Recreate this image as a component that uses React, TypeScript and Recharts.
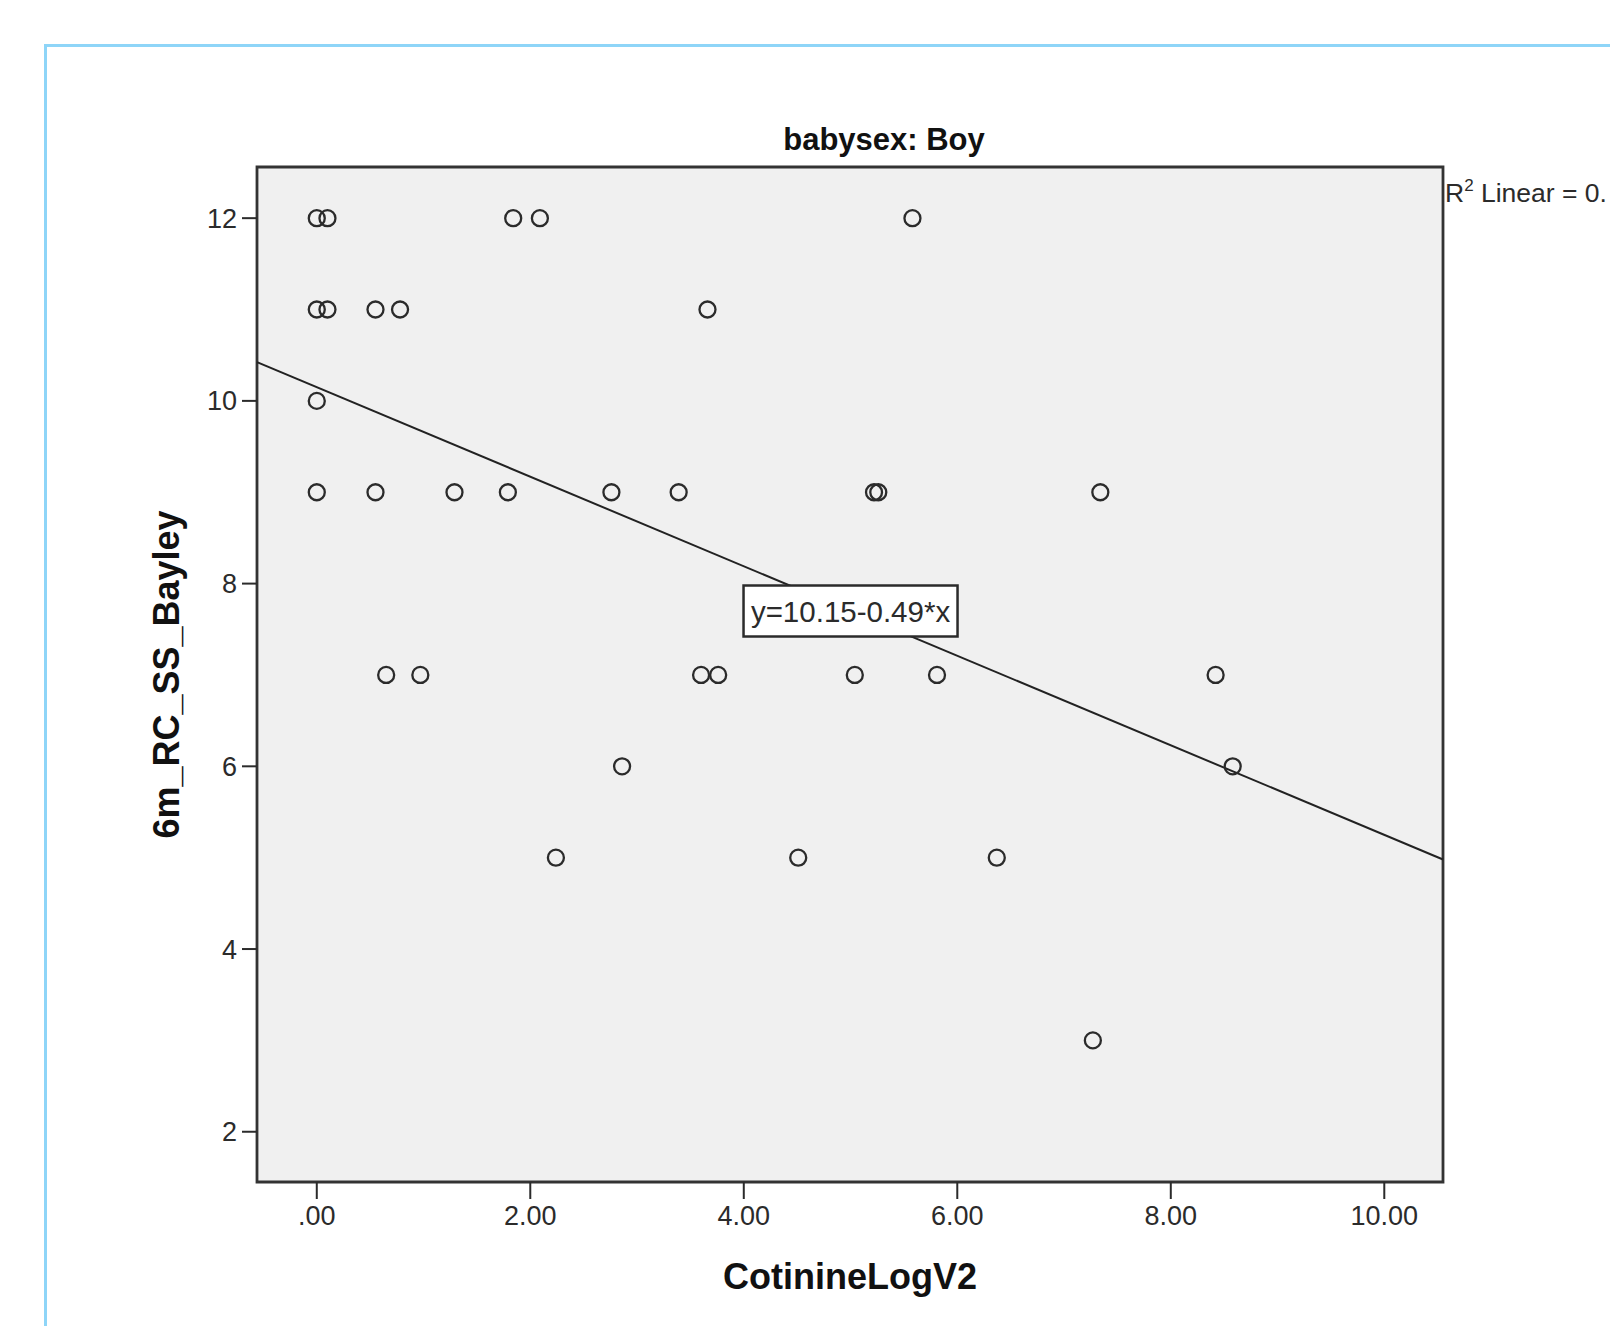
import React from "react";
import {
  ScatterChart,
  Scatter,
  XAxis,
  YAxis,
  ReferenceArea,
  ReferenceLine,
  ReferenceDot,
} from "recharts";

// CotinineLogV2 (x) and 6m_RC_SS_Bayley (y), paired by index
const cotinineLogV2 = [
  0.0, 0.1, 1.84, 2.09, 5.58,
  0.0, 0.1, 0.55, 0.78, 3.66,
  0.0,
  0.0, 0.55, 1.29, 1.79, 2.76, 3.39, 5.22, 5.26, 7.34,
  0.65, 0.97, 3.6, 3.76, 5.04, 5.81, 8.42,
  2.86, 8.58,
  2.24, 4.51, 6.37,
  7.27,
];
const bayleyScore = [
  12, 12, 12, 12, 12,
  11, 11, 11, 11, 11,
  10,
  9, 9, 9, 9, 9, 9, 9, 9, 9,
  7, 7, 7, 7, 7, 7, 7,
  6, 6,
  5, 5, 5,
  3,
];

const xTicks = [0, 2, 4, 6, 8, 10];
const yTicks = [2, 4, 6, 8, 10, 12];
const xDomain = [-0.56, 10.55];
const yDomain = [1.45, 12.56];

// fit line as printed in the chart
const intercept = 10.15;
const slope = -0.49;
const equationAtX = 5;

const title = "babysex: Boy";
const xTitle = "CotinineLogV2";
const yTitle = "6m_RC_SS_Bayley";

const FONT = '"Liberation Sans", Arial, sans-serif';
const INK = "#2b2b2b";

const points = cotinineLogV2.map((x, i) => ({ x, y: bayleyScore[i] }));
const fitY = (x: number) => intercept + slope * x;

const fmtX = (v: number) => (v === 0 ? ".00" : v.toFixed(2));

function OpenCircle(props: any) {
  const { cx, cy } = props;
  if (cx == null || cy == null) return null;
  return <circle cx={cx} cy={cy} r={8} fill="none" stroke={INK} strokeWidth={2.3} />;
}

function EquationBox(props: any) {
  const { cx, cy } = props;
  const w = 214;
  const h = 51;
  return (
    <g>
      <rect x={cx - w / 2} y={cy - h / 2} width={w} height={h} fill="#fff" stroke={INK} strokeWidth={2.5} />
      <text
        x={cx}
        y={cy + 10.5}
        textAnchor="middle"
        fontFamily={FONT}
        fontSize={29.5}
        fill={INK}
      >
        {`y=${intercept.toFixed(2)}-${Math.abs(slope).toFixed(2)}*x`}
      </text>
    </g>
  );
}

function XTitle(props: any) {
  const vb = props.viewBox;
  return (
    <text
      x={vb.x + vb.width / 2}
      y={vb.y + 107}
      textAnchor="middle"
      fontFamily={FONT}
      fontWeight="bold"
      fontSize={36}
      fill="#111"
    >
      {xTitle}
    </text>
  );
}

function YTitle(props: any) {
  const vb = props.viewBox;
  const x = vb.x + 32;
  const y = vb.y + vb.height / 2;
  return (
    <text
      x={x}
      y={y}
      transform={`rotate(-90, ${x}, ${y})`}
      textAnchor="middle"
      fontFamily={FONT}
      fontWeight="bold"
      fontSize={36}
      fill="#111"
    >
      {yTitle}
    </text>
  );
}

export default function App() {
  const tickStyle = { fontFamily: FONT, fontSize: 27, fill: INK };
  return (
    <div
      style={{
        position: "absolute",
        left: 0,
        top: 0,
        width: 1610,
        height: 1326,
        overflow: "hidden",
        background: "#fff",
      }}
    >
      <div
        style={{
          position: "absolute",
          left: 44,
          top: 44,
          width: 1800,
          height: 1500,
          borderLeft: "3px solid #8ed5f8",
          borderTop: "3px solid #8ed5f8",
        }}
      />
      <div style={{ position: "absolute", left: 0, top: 0 }}>
        <ScatterChart
          width={1610}
          height={1326}
          margin={{ top: 167, right: 167, bottom: 34, left: 147 }}
        >
          <XAxis
            type="number"
            dataKey="x"
            domain={xDomain}
            allowDataOverflow
            ticks={xTicks}
            interval={0}
            tickFormatter={fmtX}
            height={110}
            axisLine={false}
            tickSize={17}
            tickMargin={7}
            tickLine={{ stroke: INK, strokeWidth: 2 }}
            tick={tickStyle}
            label={{ content: XTitle }}
          />
          <YAxis
            type="number"
            dataKey="y"
            domain={yDomain}
            allowDataOverflow
            ticks={yTicks}
            interval={0}
            width={110}
            axisLine={false}
            tickSize={15}
            tickMargin={5}
            tickLine={{ stroke: INK, strokeWidth: 2 }}
            tick={tickStyle}
            label={{ content: YTitle }}
          />
          <ReferenceArea
            x1={xDomain[0]}
            x2={xDomain[1]}
            y1={yDomain[0]}
            y2={yDomain[1]}
            fill="#f0f0f0"
            fillOpacity={1}
            stroke="#333"
            strokeWidth={2.8}
          />
          <ReferenceLine
            segment={[
              { x: xDomain[0], y: fitY(xDomain[0]) },
              { x: xDomain[1], y: fitY(xDomain[1]) },
            ]}
            stroke="#222"
            strokeWidth={2}
          />
          <Scatter data={points} shape={OpenCircle} isAnimationActive={false} />
          <ReferenceDot
            x={equationAtX}
            y={fitY(equationAtX)}
            ifOverflow="visible"
            shape={EquationBox}
          />
        </ScatterChart>
      </div>
      <svg
        width={1610}
        height={1326}
        style={{ position: "absolute", left: 0, top: 0, pointerEvents: "none" }}
      >
        <text
          x={884}
          y={150}
          textAnchor="middle"
          fontFamily={FONT}
          fontWeight="bold"
          fontSize={31}
          fill="#111"
        >
          {title}
        </text>
        <text x={1445} y={202} fontFamily={FONT} fontSize={26.5} fill={INK}>
          R
          <tspan fontSize={17} dy={-11}>
            2
          </tspan>
          <tspan dy={11}> Linear = 0.</tspan>
        </text>
      </svg>
    </div>
  );
}
